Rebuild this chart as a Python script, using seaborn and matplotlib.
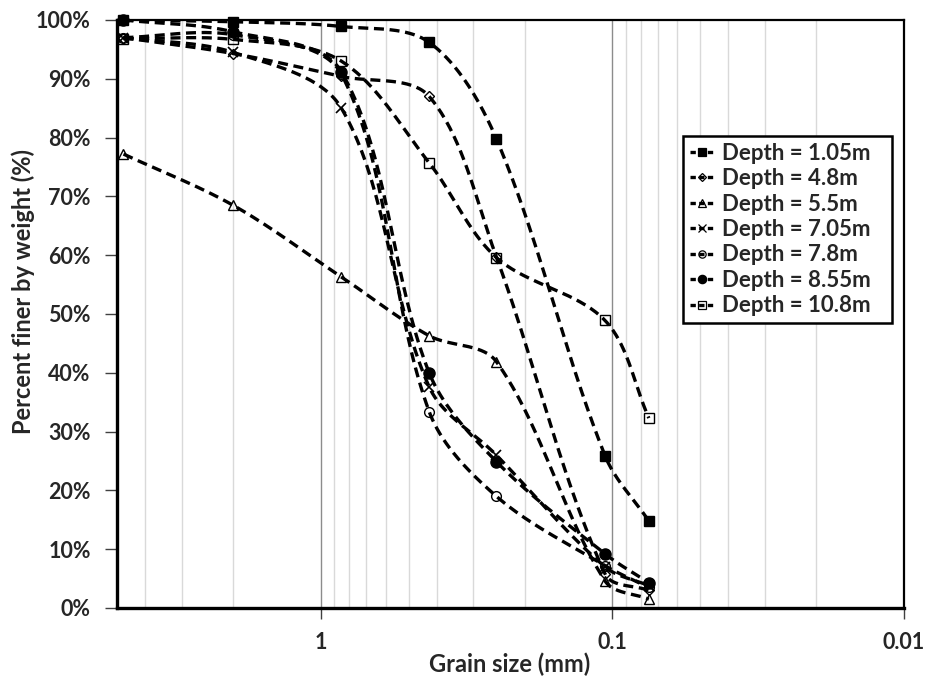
import numpy as np
import pandas as pd
import matplotlib
matplotlib.use("Agg")
import matplotlib.pyplot as plt
import seaborn as sns
from matplotlib.lines import Line2D
from matplotlib.ticker import FixedLocator, NullFormatter, FixedFormatter

# ---------------- data ----------------
sizes = [4.75, 2.0, 0.85, 0.425, 0.25, 0.106, 0.075]
depth_105 = [100.0, 99.7, 98.9, 96.2, 79.8, 25.9, 14.8]
depth_48 = [97.0, 94.3, 90.4, 87.0, 59.7, 5.8, 3.0]
depth_55 = [77.2, 68.5, 56.3, 46.3, 41.9, 4.6, 1.5]
depth_705 = [97.0, 94.5, 85.0, 37.6, 26.0, 7.0, 3.8]
depth_78 = [97.0, 97.5, 90.8, 33.4, 19.0, 7.2, 3.5]
depth_855 = [100.0, 98.0, 91.2, 40.0, 24.9, 9.2, 4.3]
depth_108 = [96.8, 96.7, 93.0, 75.7, 59.6, 48.9, 32.3]

labels = ["Depth = 1.05m", "Depth = 4.8m", "Depth = 5.5m", "Depth = 7.05m",
          "Depth = 7.8m", "Depth = 8.55m", "Depth = 10.8m"]
series = [depth_105, depth_48, depth_55, depth_705, depth_78, depth_855, depth_108]

x_ticks = [1, 0.1, 0.01]
x_tick_labels = ["1", "0.1", "0.01"]
y_ticks = list(range(0, 101, 10))

# marker styles
markers = ["s", "D", "^", "x", "o", "o", "s"]
msizes = [7.5, 5.5, 7.5, 7.5, 7.0, 8.0, 7.5]
filled = [True, False, False, False, False, True, False]

sns.set_theme(style="white")
plt.rcParams["font.family"] = ["Lato", "DejaVu Sans"]
plt.rcParams["font.weight"] = "bold"

fig = plt.figure(figsize=(9.3, 6.79), dpi=100)
L, R, B, T = 117 / 930, 904 / 930, 1 - 608 / 679, 1 - 20 / 679
ax = fig.add_axes([L, B, R - L, T - B])
ax.set_xscale("log")
ax.set_xlim(5, 0.01)
ax.set_ylim(0, 100)

# grid lines
minor = [m * 10.0 ** e for e in (0, -1, -2) for m in range(2, 10)]
minor = [v for v in minor if 0.01 < v < 5]
ax.xaxis.set_major_locator(FixedLocator(x_ticks))
ax.xaxis.set_major_formatter(FixedFormatter(x_tick_labels))
ax.xaxis.set_minor_locator(FixedLocator(minor))
ax.xaxis.set_minor_formatter(NullFormatter())
ax.grid(False)
for v in minor:
    ax.axvline(v, color="#d9d9d9", lw=1.0, zorder=0)
for v in [1, 0.1]:
    ax.axvline(v, color="#8c8c8c", lw=1.0, zorder=0)

ax.yaxis.set_major_locator(FixedLocator(y_ticks))
ax.set_yticklabels([f"{v}%" for v in y_ticks])

ax.tick_params(axis="x", which="major", direction="out", length=8, width=1,
               color="#404040", pad=9, labelsize=15.5)
ax.tick_params(axis="x", which="minor", length=0)
ax.tick_params(axis="y", which="major", direction="out", length=9, width=1,
               color="#404040", pad=10, labelsize=15.5)
ax.tick_params(left=True, bottom=True)
for lab in ax.get_xticklabels() + ax.get_yticklabels():
    lab.set_fontweight("bold")

for s in ["left", "bottom"]:
    ax.spines[s].set_linewidth(2.4)
    ax.spines[s].set_color("black")
for s in ["top", "right"]:
    ax.spines[s].set_linewidth(1.6)
    ax.spines[s].set_color("black")


def excel_smooth(xs, ys, n=40):
    pts = ax.transData.transform(np.column_stack([xs, ys]))
    P = np.vstack([pts[0], pts, pts[-1]])
    out = []
    t = np.linspace(0, 1, n)[:, None]
    for i in range(1, len(P) - 2):
        p0, p1, p2, p3 = P[i - 1], P[i], P[i + 1], P[i + 2]
        d01 = np.hypot(*(p1 - p0))
        d12 = np.hypot(*(p2 - p1))
        d23 = np.hypot(*(p3 - p2))
        w1 = d12 / (d01 + d12) if d01 + d12 > 0 else 0.5
        w2 = d12 / (d12 + d23) if d12 + d23 > 0 else 0.5
        c1 = p1 + (p2 - p0) * w1 / 3.0
        c2 = p2 - (p3 - p1) * w2 / 3.0
        seg = (1 - t) ** 3 * p1 + 3 * (1 - t) ** 2 * t * c1 + 3 * (1 - t) * t ** 2 * c2 + t ** 3 * p2
        out.append(seg if i == 1 else seg[1:])
    pts = np.vstack(out)
    return ax.transData.inverted().transform(pts)


dash = (0, (3.0, 1.7))
lw = 2.4
handles = []
for vals, lab, mk, ms, fl in zip(series, labels, markers, msizes, filled):
    curve = excel_smooth(sizes, vals)
    cdf = pd.DataFrame({"x": curve[:, 0], "y": curve[:, 1]})
    sns.lineplot(data=cdf, x="x", y="y", sort=False, estimator=None, ax=ax,
                 color="black", lw=lw, linestyle=dash, zorder=3)
    mdf = pd.DataFrame({"x": sizes, "y": vals})
    mfc = "black" if fl else "none"
    ax.plot(mdf["x"], mdf["y"], linestyle="none", marker=mk, ms=ms,
            mfc=mfc, mec="black", mew=1.0 if mk != "x" else 1.2, zorder=4,
            clip_on=False)
    handles.append(Line2D([0], [0], color="black", lw=lw, linestyle=(0, (1.6, 1.0)),
                          marker=mk, ms=ms * 0.75, mfc=mfc, mec="black", mew=0.9))

ax.set_xlabel("")
ax.set_ylabel("")

leg_x0, leg_x1, leg_top = 683 / 930, 892 / 930, 1 - 136 / 679
leg = ax.legend(handles, labels, loc="upper left", mode="expand",
                bbox_to_anchor=(leg_x0, leg_top - 0.3, leg_x1 - leg_x0, 0.3),
                bbox_transform=fig.transFigure, frameon=True, fancybox=False,
                handlelength=1.15, handletextpad=0.3, labelspacing=0.2,
                borderpad=0.3, borderaxespad=0,
                prop={"family": ["Lato", "DejaVu Sans"], "weight": "bold", "size": 16})
leg.get_frame().set_edgecolor("black")
leg.get_frame().set_linewidth(1.8)
leg.get_frame().set_facecolor("white")
leg.get_frame().set_alpha(1)
leg.set_zorder(10)

fig.text(510 / 930, 1 - 664 / 679, "Grain size (mm)", ha="center", va="center",
         fontsize=17, fontweight="bold")
fig.text(23 / 930, 1 - 292 / 679, "Percent finer by weight (%)", ha="center",
         va="center", rotation=90, fontsize=17, fontweight="bold")

fig.savefig("out.png", dpi=100, facecolor="white")
